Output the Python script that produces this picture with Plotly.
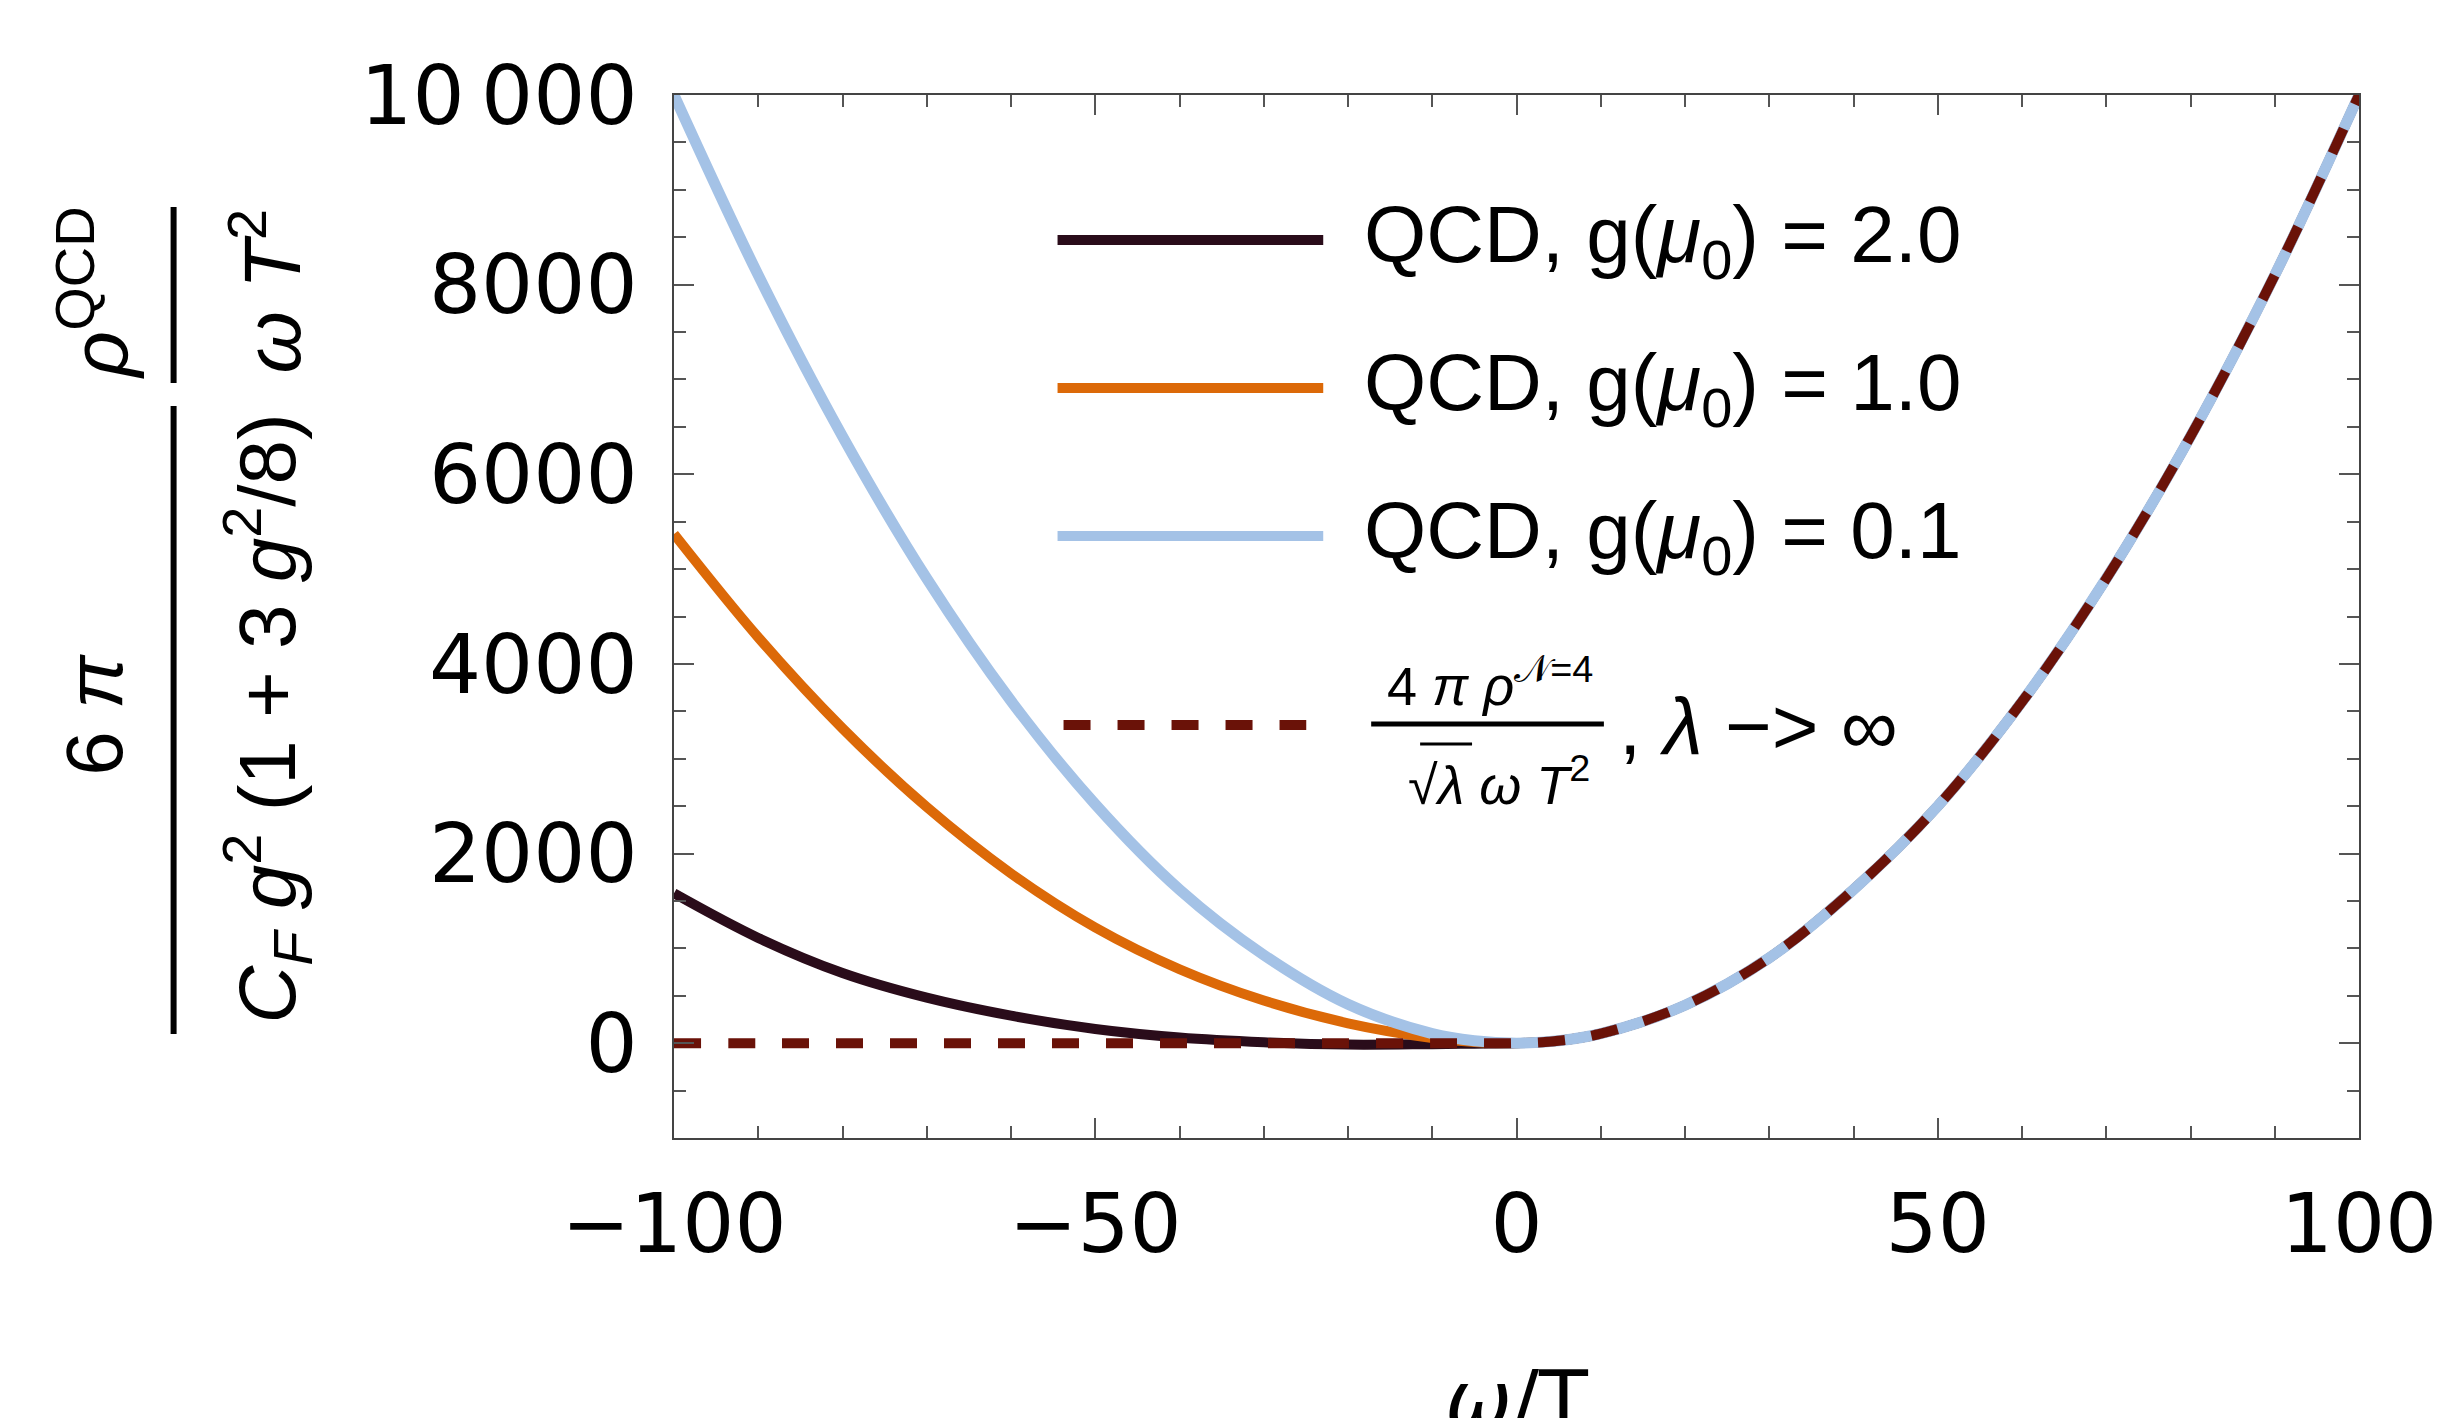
import plotly.graph_objects as go

# ---------------- data ----------------
omega_neg = [-100, -90, -80, -70, -60, -50, -40, -30, -20, -10, -5, 0]
omega_pos = [5, 10, 20, 30, 40, 50, 60, 70, 80, 90, 100]

# positive-frequency branch (all curves coincide there)
rho_pos = [25, 100, 400, 900, 1620, 2500, 3600, 4900, 6400, 8100, 10000]

# negative-frequency branches
qcd_g20_neg = [1580, 1110, 740, 480, 290, 150, 60, 10, -15, -10, -5, 0]
qcd_g10_neg = [5370, 4280, 3320, 2490, 1790, 1220, 780, 450, 210, 55, 12, 0]
qcd_g01_neg = [10000, 8100, 6400, 4900, 3610, 2520, 1620, 930, 410, 100, 25, 0]
n4_neg = [0, 0, 0, 0, 0, 0, 0, 0, 0, 0, 0, 0]

x_ticks = [-100, -50, 0, 50, 100]
y_ticks = [0, 2000, 4000, 6000, 8000, 10000]
y_ticktext = ["0", "2000", "4000", "6000", "8000", "10\u2009000"]

legend_labels = ["QCD, g(<i>μ</i><sub>0</sub>) = 2.0",
                 "QCD, g(<i>μ</i><sub>0</sub>) = 1.0",
                 "QCD, g(<i>μ</i><sub>0</sub>) = 0.1"]

colors = ["#2a0c1a", "#dc6908", "#a4c2e6"]
dash_color = "#6a1208"

# ---------------- layout geometry (pixels) ----------------
W, H = 2441, 1418
L, R, T, B = 666, 2353, 87, 1130


def px(x):
    return (x - L) / (R - L)


def py(y):
    return (B - y) / (B - T)


x_all = omega_neg + omega_pos
fig = go.Figure()
series = [qcd_g20_neg, qcd_g10_neg, qcd_g01_neg]
widths = [10, 10, 11]
for s, c, w in zip(series, colors, widths):
    fig.add_trace(go.Scatter(x=x_all, y=s + rho_pos, mode="lines",
                             line=dict(color=c, width=w, shape="spline", smoothing=1.0),
                             showlegend=False, hoverinfo="skip"))
fig.add_trace(go.Scatter(x=x_all, y=n4_neg + rho_pos, mode="lines",
                         line=dict(color=dash_color, width=10, dash="27px,27px",
                                   shape="spline", smoothing=1.0),
                         showlegend=False, hoverinfo="skip"))

tickcol = "#555555"
fig.update_xaxes(range=[-100, 100], tickvals=x_ticks, ticks="inside", ticklen=20,
                 tickwidth=2, tickcolor=tickcol,
                 minor=dict(dtick=10, tick0=0, ticks="inside", ticklen=12, tickwidth=2,
                            tickcolor=tickcol, showgrid=False),
                 showline=True, linecolor="#444444", linewidth=2, mirror="ticks",
                 showgrid=False, zeroline=False,
                 tickfont=dict(family="DejaVu Sans", size=82, color="black"),
                 ticklabelstandoff=14)
fig.update_yaxes(range=[-1000, 10000], tickvals=y_ticks, ticktext=y_ticktext,
                 ticks="inside", ticklen=20, tickwidth=2, tickcolor=tickcol,
                 minor=dict(dtick=500, tick0=0, ticks="inside", ticklen=12, tickwidth=2,
                            tickcolor=tickcol, showgrid=False),
                 showline=True, linecolor="#444444", linewidth=2, mirror="ticks",
                 showgrid=False, zeroline=False,
                 tickfont=dict(family="DejaVu Sans", size=82, color="black"),
                 ticklabelstandoff=18)

ann = []
shapes = []
sans = "Liberation Sans"

# x-axis title
ann.append(dict(x=px(1510), y=py(1392), xref="paper", yref="paper", showarrow=False,
                text="<i>ω</i>/T", font=dict(family="DejaVu Sans", size=80, color="black"),
                xanchor="center", yanchor="middle"))

# y-axis title (rotated fraction product)
ytitle_parts = [
    ("6 <i>π</i>", 85, 707),
    ("<i>ρ</i><sup>QCD</sup>", 85, 285),
    ("<i>C</i><sub><i>F</i></sub> <i>g</i><sup>2</sup> (1 + 3 <i>g</i><sup>2</sup>/8)", 258, 710),
    ("<i>ω</i> <i>T</i><sup>2</sup>", 258, 283),
]
for txt, xx, yy in ytitle_parts:
    ann.append(dict(x=px(xx), y=py(yy), xref="paper", yref="paper", showarrow=False,
                    text=txt, textangle=-90, font=dict(family=sans, size=80, color="black"),
                    xanchor="center", yanchor="middle"))
for y0, y1 in [(398, 1026), (199, 375)]:
    shapes.append(dict(type="line", xref="paper", yref="paper", x0=px(165), x1=px(165),
                       y0=py(y0), y1=py(y1), line=dict(color="black", width=6)))

# legend (drawn manually)
leg_y = [232, 380, 528]
for lab, c, yy in zip(legend_labels, colors, leg_y):
    shapes.append(dict(type="line", xref="paper", yref="paper", x0=px(1050), x1=px(1316),
                       y0=py(yy), y1=py(yy), line=dict(color=c, width=10)))
    ann.append(dict(x=px(1355), y=py(yy), xref="paper", yref="paper", showarrow=False,
                    text=lab, font=dict(family=sans, size=80, color="black"),
                    xanchor="left", yanchor="middle"))
shapes.append(dict(type="line", xref="paper", yref="paper", x0=px(1056), x1=px(1299),
                   y0=py(717), y1=py(717),
                   line=dict(color=dash_color, width=10, dash="27px,27px")))
ann.append(dict(x=px(1483), y=py(674), xref="paper", yref="paper", showarrow=False,
                text="4 <i>π</i> <i>ρ</i><sup>𝒩=4</sup>",
                font=dict(family=sans, size=54, color="black"),
                xanchor="center", yanchor="middle"))
shapes.append(dict(type="line", xref="paper", yref="paper", x0=px(1364), x1=px(1597),
                   y0=py(716), y1=py(716), line=dict(color="black", width=5)))
ann.append(dict(x=px(1492), y=py(773), xref="paper", yref="paper", showarrow=False,
                text="√<i>λ</i> <i>ω</i> <i>T</i><sup>2</sup>",
                font=dict(family=sans, size=54, color="black"),
                xanchor="center", yanchor="middle"))
shapes.append(dict(type="line", xref="paper", yref="paper", x0=px(1413), x1=px(1465),
                   y0=py(736), y1=py(736), line=dict(color="black", width=3)))
ann.append(dict(x=px(1610), y=py(718), xref="paper", yref="paper", showarrow=False,
                text=", <i>λ</i> −> ∞", font=dict(family=sans, size=80, color="black"),
                xanchor="left", yanchor="middle"))

fig.update_layout(width=W, height=H, margin=dict(l=L, r=W - R, t=T, b=H - B),
                  paper_bgcolor="white", plot_bgcolor="white",
                  annotations=ann, shapes=shapes, showlegend=False)

fig.write_html("out.html")
